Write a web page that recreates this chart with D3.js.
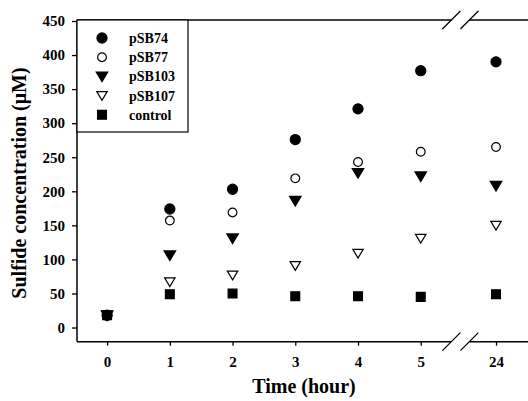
<!DOCTYPE html>
<html>
<head>
<meta charset="utf-8">
<script src="https://cdn.jsdelivr.net/npm/d3@7"></script>
<style>
  body { margin: 0; background: white; }
  text { font-family: "Liberation Serif", "Times New Roman", serif; font-weight: bold; }
</style>
</head>
<body>
<script>
// Time points (hours) - axis is broken between 5 and 24
const times = [0, 1, 2, 3, 4, 5, 24];
const yTicks = [0, 50, 100, 150, 200, 250, 300, 350, 400, 450];

const pSB74 = [18, 174, 203, 276, 321, 377, 390];
const pSB77 = [18, 157, 169, 219, 243, 258, 265];
const pSB103 = [18, 106, 131, 186, 227, 222, 208];
const pSB107 = [18, 67, 77, 91, 109, 131, 150];
const control = [18, 49, 50, 46, 46, 45, 49];

const seriesNames = ['pSB74', 'pSB77', 'pSB103', 'pSB107', 'control'];
const seriesValues = [pSB74, pSB77, pSB103, pSB107, control];

const width = 528;
const height = 401;
const margin = { top: 20, right: 0, bottom: 59, left: 77 };

// broken axis: hours 0..5 are linear, 24 sits just after the break
const breakSlot = 6.2;
const slot = h => (h <= 5 ? h : breakSlot);
const xs = d3.scaleLinear()
  .domain([-0.48, 6.71])
  .range([margin.left, width - margin.right]);
const x = h => xs(slot(h));

const y = d3.scaleLinear()
  .domain([-20.8, 450])
  .range([height - margin.bottom - 0.3, margin.top + 1]);

const svg = d3.select('body').append('svg')
  .attr('width', width)
  .attr('height', height);

svg.append('rect').attr('width', width).attr('height', height).attr('fill', 'white');

// symbols: filled circle, open circle, filled triangle down, open triangle down, filled square
const triDown = d3.symbol().type({
  draw(ctx, size) {
    const s = Math.sqrt(size);
    ctx.moveTo(-s * 0.55, -s * 0.42);
    ctx.lineTo(s * 0.55, -s * 0.42);
    ctx.lineTo(0, s * 0.5);
    ctx.closePath();
  }
});
const markers = [
  { path: d3.symbol(d3.symbolCircle, 80)(), fill: 'black' },
  { path: d3.symbol(d3.symbolCircle, 60)(), fill: 'white' },
  { path: triDown.size(110)(), fill: 'black' },
  { path: triDown.size(90)(), fill: 'white' },
  { path: d3.symbol(d3.symbolSquare, 78)(), fill: 'black' }
];

// Axes
const xAxisY = y(-20.8);
const yAxis = svg.append('g')
  .attr('transform', `translate(${margin.left},0)`)
  .call(d3.axisLeft(y).tickValues(yTicks).tickSize(5).tickPadding(7));
yAxis.select('.domain').remove();
yAxis.selectAll('line').attr('stroke-width', 1.3);
yAxis.selectAll('text').attr('font-size', 15);

const xAxis = svg.append('g')
  .attr('transform', `translate(0,${xAxisY})`)
  .call(d3.axisBottom(xs)
    .tickValues(times.map(slot))
    .tickFormat((d, i) => times[i])
    .tickSize(4).tickPadding(11));
xAxis.select('.domain').remove();
xAxis.selectAll('line').attr('stroke-width', 1.3);
xAxis.selectAll('text').attr('font-size', 15);

// frame lines
svg.append('line').attr('x1', margin.left).attr('x2', margin.left)
  .attr('y1', margin.top).attr('y2', xAxisY).attr('stroke', 'black').attr('stroke-width', 1.5);
svg.append('line').attr('x1', margin.left).attr('x2', width)
  .attr('y1', xAxisY).attr('y2', xAxisY).attr('stroke', 'black').attr('stroke-width', 1.5);
svg.append('line').attr('x1', margin.left).attr('x2', width)
  .attr('y1', margin.top).attr('y2', margin.top).attr('stroke', 'black').attr('stroke-width', 1.5);

// axis break marks between 5 and 24
const bx = (x(5) + x(24)) / 2 + 2;
[margin.top, xAxisY].forEach(ly => {
  svg.append('rect').attr('x', bx - 9).attr('y', ly - 2).attr('width', 18).attr('height', 4).attr('fill', 'white');
  [-9, 9].forEach(off => {
    svg.append('line')
      .attr('x1', bx + off - 9).attr('y1', ly + 9)
      .attr('x2', bx + off + 9).attr('y2', ly - 9)
      .attr('stroke', 'black').attr('stroke-width', 1.2);
  });
});

// data points
seriesValues.forEach((vals, i) => {
  svg.append('g').selectAll('path')
    .data(vals)
    .join('path')
    .attr('transform', (d, j) => `translate(${x(times[j])},${y(d)})`)
    .attr('d', markers[i].path)
    .attr('fill', markers[i].fill)
    .attr('stroke', 'black')
    .attr('stroke-width', 1.2);
});

// legend
const legend = svg.append('g');
legend.append('rect')
  .attr('x', margin.left).attr('y', margin.top)
  .attr('width', 111).attr('height', 112)
  .attr('fill', 'white').attr('stroke', 'black').attr('stroke-width', 1.2);
seriesNames.forEach((name, i) => {
  const ly = margin.top + 18 + i * 19.2;
  legend.append('path')
    .attr('transform', `translate(102,${ly})`)
    .attr('d', markers[i].path)
    .attr('fill', markers[i].fill)
    .attr('stroke', 'black')
    .attr('stroke-width', 1.2);
  legend.append('text')
    .attr('x', 129).attr('y', ly)
    .attr('dy', '0.35em')
    .attr('font-size', 14)
    .text(name);
});

// titles
svg.append('text')
  .attr('x', 304).attr('y', 393)
  .attr('text-anchor', 'middle')
  .attr('font-size', 20)
  .text('Time (hour)');
svg.append('text')
  .attr('transform', 'translate(26,183) rotate(-90)')
  .attr('text-anchor', 'middle')
  .attr('font-size', 20)
  .text('Sulfide concentration (μM)');
</script>
</body>
</html>
